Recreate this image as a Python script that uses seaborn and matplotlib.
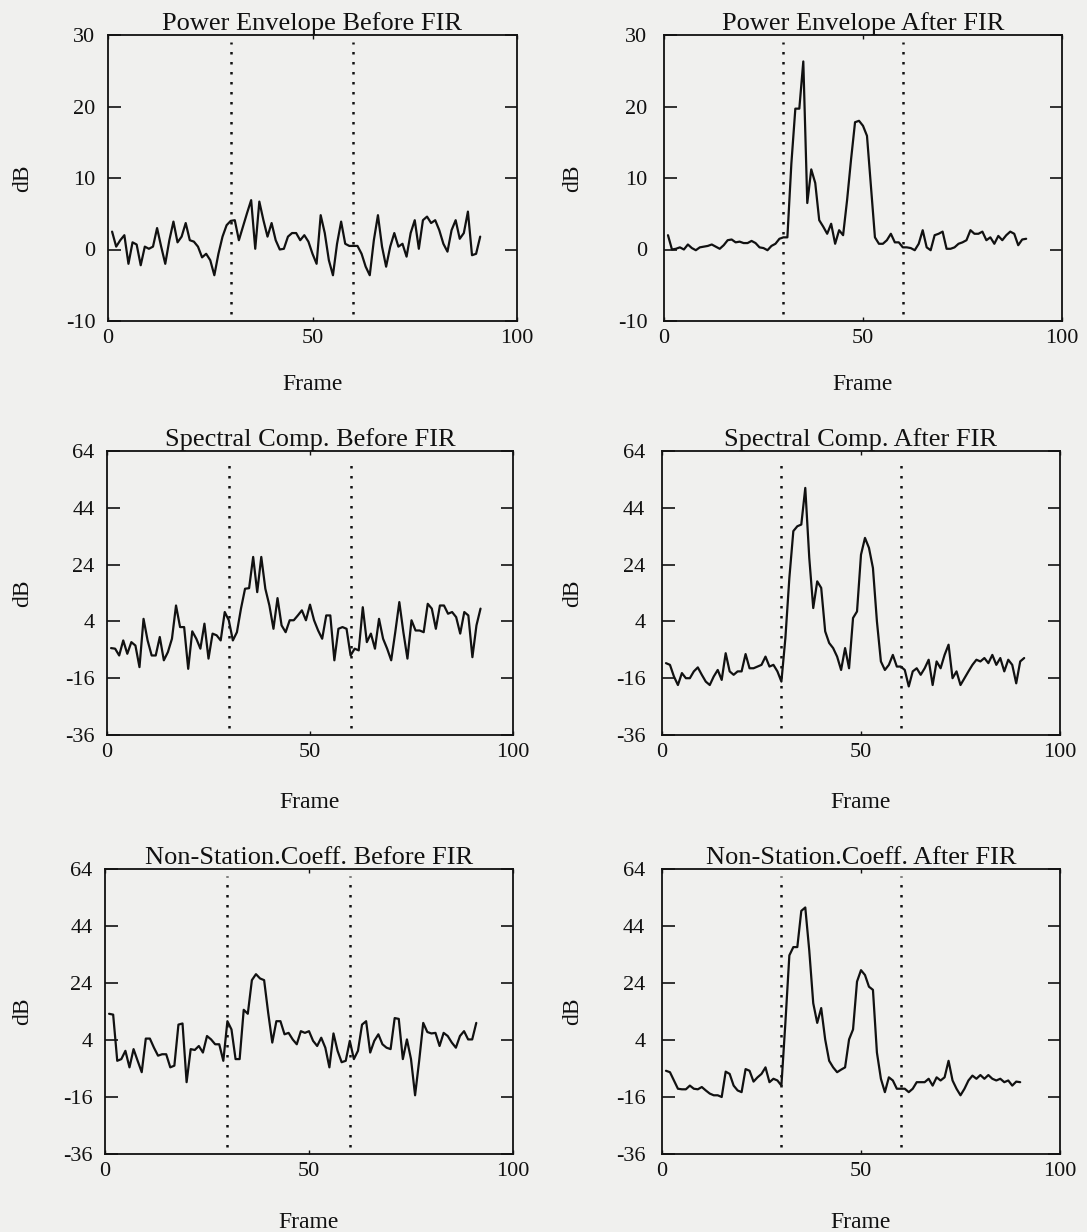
import numpy as np
import pandas as pd
import matplotlib
matplotlib.use("Agg")
import matplotlib.pyplot as plt
import seaborn as sns

# ---------------- data ----------------
pe_before = [2.5, 0.4, 1.3, 2.0, -2.0, 1.0, 0.7, -2.2, 0.4, 0.1, 0.4, 3.0, 0.4, -2.0, 1.3,
             3.9, 1.0, 1.8, 3.7, 1.3, 1.1, 0.4, -1.1, -0.6, -1.5, -3.6, -0.6, 1.8, 3.4, 4.0,
             4.1, 1.3, 3.2, 5.1, 6.9, 0.1, 6.7, 4.1, 1.8, 3.7, 1.3, 0.0, 0.1, 1.8, 2.3,
             2.3, 1.3, 2.0, 1.1, -0.6, -2.0, 4.8, 2.3, -1.5, -3.6, 0.8, 3.9, 0.8, 0.5, 0.5,
             0.5, -0.6, -2.4, -3.6, 1.3, 4.8, 0.4, -2.4, 0.4, 2.3, 0.4, 0.8, -1.0, 2.3, 4.1,
             0.1, 4.1, 4.6, 3.7, 4.1, 2.7, 0.8, -0.3, 2.7, 4.1, 1.5, 2.3, 5.3, -0.8, -0.6, 1.8]

pe_after = [2.0, 0.0, 0.1, 0.3, 0.0, 0.7, 0.2, -0.1, 0.3, 0.4, 0.5, 0.7, 0.4, 0.1, 0.6,
            1.3, 1.4, 1.0, 1.1, 0.9, 0.9, 1.2, 0.9, 0.3, 0.2, -0.1, 0.5, 0.8, 1.5, 1.7,
            1.7, 12.0, 19.7, 19.7, 26.3, 6.5, 11.2, 9.3, 4.1, 3.2, 2.2, 3.6, 0.8, 2.7, 2.0,
            6.9, 12.6, 17.8, 18.0, 17.3, 15.9, 8.8, 1.7, 0.8, 0.8, 1.3, 2.2, 1.0, 1.0, 0.3,
            0.3, 0.2, -0.1, 0.8, 2.7, 0.3, -0.1, 2.0, 2.2, 2.5, 0.1, 0.1, 0.3, 0.8, 1.0,
            1.3, 2.7, 2.2, 2.2, 2.5, 1.3, 1.7, 0.8, 1.9, 1.3, 2.0, 2.5, 2.2, 0.6, 1.4, 1.5]

sc_before = [-5.4, -5.6, -8.0, -2.7, -7.4, -3.3, -4.5, -12.1, 4.9, -2.7, -8.0, -8.0, -1.5,
             -9.7, -6.8, -2.1, 9.6, 2.0, 2.0, -12.7, 0.5, -2.1, -5.6, 3.2, -9.1, -0.3, -0.9,
             -2.7, 7.3, 4.4, -2.7, 0.2, 8.5, 15.5, 15.7, 26.7, 14.3, 26.7, 15.5, 9.6, 1.4,
             12.2, 2.6, 0.2, 4.4, 4.4, 6.1, 7.9, 4.4, 9.9, 4.4, 0.8, -2.1, 6.1, 6.1, -9.7,
             1.4, 2.0, 1.4, -8.0, -5.6, -6.2, 9.0, -3.3, -0.3, -5.6, 4.9, -2.1, -5.6, -9.7,
             0.2, 10.8, 0.2, -9.1, 4.4, 0.8, 0.8, 0.2, 10.2, 8.5, 1.4, 9.6, 9.6, 6.7, 7.3,
             5.5, -0.3, 7.3, 6.1, -8.6, 2.6, 8.5]

sc_after = [-10.7, -11.3, -15.4, -18.4, -14.2, -16.0, -16.0, -13.6, -12.2, -14.8, -17.2,
            -18.4, -15.4, -13.1, -16.6, -7.2, -13.6, -14.8, -13.6, -13.6, -7.5, -12.5, -12.5,
            -11.9, -11.3, -8.4, -11.9, -11.3, -13.6, -17.2, -1.9, 19.3, 35.8, 37.5, 38.1,
            51.0, 26.4, 8.7, 18.1, 15.8, 0.5, -3.6, -5.4, -8.4, -13.1, -5.4, -12.5, 5.2, 7.5,
            27.5, 33.4, 29.9, 22.8, 4.0, -10.1, -13.1, -11.3, -7.8, -11.9, -11.9, -13.1,
            -18.9, -13.6, -12.5, -14.8, -12.5, -9.5, -18.4, -10.1, -12.5, -7.8, -4.2, -16.0,
            -13.6, -18.4, -16.0, -13.6, -11.3, -9.5, -10.1, -8.9, -10.7, -7.8, -11.3, -8.9,
            -13.6, -9.5, -11.3, -17.8, -10.1, -8.9]

ns_before = [13.2, 12.9, -3.3, -2.7, 0.2, -5.6, 0.8, -3.3, -7.3, 4.5, 4.5, 1.3, -1.5, -1.0,
             -1.0, -5.6, -5.0, 9.4, 9.8, -10.8, 0.8, 0.5, 1.9, -0.4, 5.4, 4.2, 2.5, 2.5, -3.3,
             10.6, 7.7, -2.7, -2.7, 14.6, 13.2, 25.0, 27.1, 25.6, 25.0, 13.5, 3.1, 10.6, 10.6,
             6.0, 6.5, 4.2, 2.5, 7.1, 6.5, 7.1, 3.7, 1.9, 4.8, 1.3, -5.6, 6.3, 0.2, -3.8, -3.3,
             3.7, -2.7, 0.2, 9.4, 10.6, -0.4, 3.7, 6.0, 2.5, 1.3, 0.8, 11.7, 11.4, -2.7, 4.2,
             -2.7, -15.4, -3.3, 10.0, 6.8, 6.3, 6.5, 1.9, 6.5, 5.4, 3.1, 1.3, 5.4, 7.1, 4.2,
             4.2, 10.0]

ns_after = [-6.8, -7.3, -10.2, -13.1, -13.3, -13.3, -12.0, -13.1, -13.3, -12.5, -13.7, -14.8,
            -15.4, -15.4, -16.0, -7.1, -7.9, -12.0, -13.7, -14.3, -6.2, -6.8, -10.6, -9.1,
            -7.9, -5.6, -10.8, -9.6, -10.2, -12.0, 10.0, 33.7, 36.6, 36.6, 49.3, 50.5, 35.4,
            16.9, 10.0, 15.2, 4.2, -3.3, -5.6, -7.3, -6.4, -5.6, 4.2, 7.7, 24.5, 28.5, 26.8,
            22.7, 21.6, -0.4, -9.6, -14.3, -9.1, -10.2, -13.1, -13.1, -13.1, -14.3, -13.1,
            -10.8, -10.8, -10.8, -9.6, -12.0, -9.1, -10.2, -9.1, -3.3, -10.2, -13.1, -15.4,
            -13.1, -10.2, -8.5, -9.6, -8.3, -9.6, -8.3, -9.6, -10.2, -9.6, -10.8, -10.2,
            -12.0, -10.6, -10.8]

titles = ["Power Envelope Before FIR", "Power Envelope After FIR",
          "Spectral Comp. Before FIR", "Spectral Comp. After FIR",
          "Non-Station.Coeff. Before FIR", "Non-Station.Coeff. After FIR"]
series = [pe_before, pe_after, sc_before, sc_after, ns_before, ns_after]
boundaries = [30, 60]
x_ticks = [0, 50, 100]
y_ticks_top = [-10, 0, 10, 20, 30]
y_ticks_low = [-36, -16, 4, 24, 44, 64]

# ---------------- styling ----------------
sns.set_style("ticks")
plt.rcParams["font.family"] = ["Liberation Serif", "DejaVu Serif"]
bg = "#f0f0ee"
ink = "#111111"
W, H = 1087, 1232
fig = plt.figure(figsize=(W / 100, H / 100), dpi=100, facecolor=bg)

# panel boxes in pixels: left, right, top, bottom
boxes = [(108, 517, 35, 321), (664, 1062, 35, 321),
         (107, 513, 451, 735), (662, 1060, 451, 735),
         (105, 513, 869, 1154), (662, 1060, 869, 1154)]
frame_label_y = [384, 384, 803, 803, 1222, 1222]

for i, (vals, title, (l, r, t, b)) in enumerate(zip(series, titles, boxes)):
    ax = fig.add_axes([l / W, 1 - b / H, (r - l) / W, (b - t) / H])
    ax.set_facecolor(bg)
    df = pd.DataFrame({"Frame": np.arange(1, len(vals) + 1), "dB": vals})
    sns.lineplot(data=df, x="Frame", y="dB", ax=ax, color=ink, linewidth=1.6)
    yt = y_ticks_top if i < 2 else y_ticks_low
    ax.set_xlim(0, 100)
    ax.set_ylim(yt[0], yt[-1])
    for bnd in boundaries:
        ax.axvline(bnd, ymin=0.025, ymax=0.975, color=ink, linestyle=(0, (1, 3)),
                   linewidth=1.8)
    ax.set_xticks(x_ticks)
    ax.set_yticks(yt)
    ax.set_yticklabels([str(v) for v in yt])
    ax.tick_params(axis="y", which="both", direction="in", length=9, width=1.2,
                   left=True, right=True, labelsize=16, pad=9 if i % 2 == 0 else 12,
                   colors=ink)
    ax.tick_params(axis="x", which="both", direction="in", length=3, width=1.0,
                   top=True, bottom=True, labelsize=16, pad=6, colors=ink)
    for s in ax.spines.values():
        s.set_visible(True)
        s.set_color(ink)
        s.set_linewidth(1.3)
    ax.set_title(title, fontsize=19, pad=1, color=ink)
    ax.set_xlabel("Frame", fontsize=17, color=ink, va="center")
    ax.xaxis.set_label_coords(0.5, -(frame_label_y[i] - b) / (b - t))
    ax.set_ylabel("dB", fontsize=17, color=ink)
    label_right = 33 if i % 2 == 0 else 583
    ax.yaxis.set_label_coords((label_right - l) / (r - l), 0.5)

fig.savefig("out.png", dpi=100, facecolor=bg)
